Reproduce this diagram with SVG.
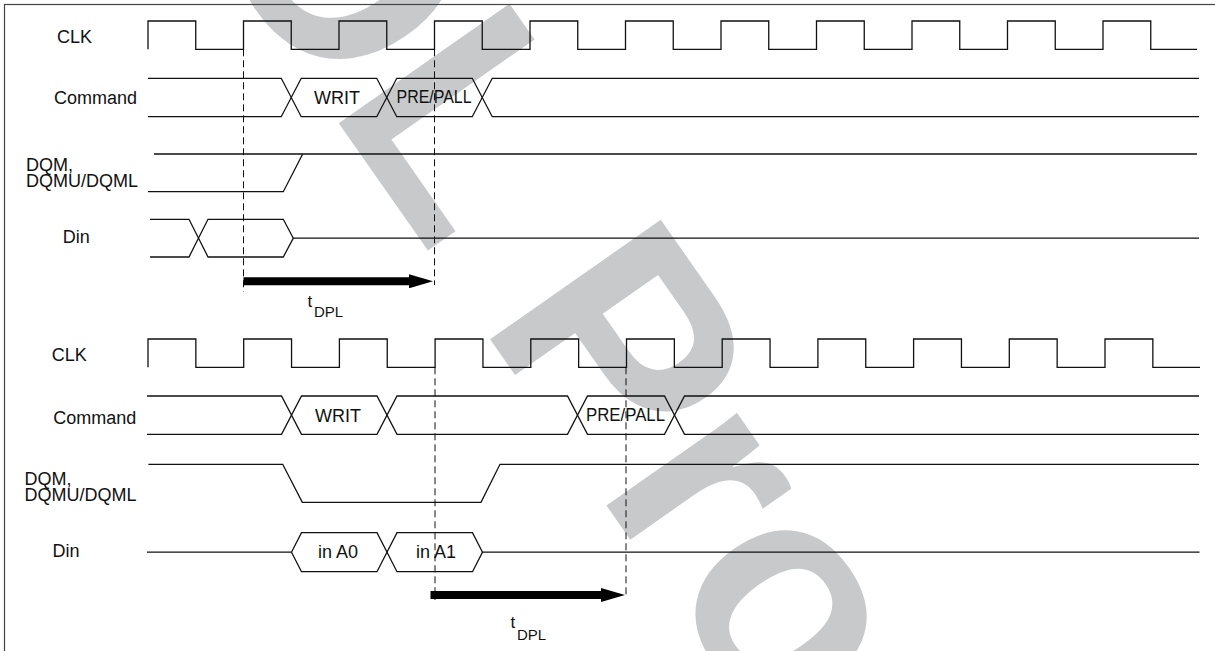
<svg xmlns="http://www.w3.org/2000/svg" width="1215" height="651" viewBox="0 0 1215 651">
<style>
.wm{font-family:"Liberation Sans",Arial,sans-serif;font-weight:bold;font-size:303px;fill:#c8c9cb}
.lbl{font-family:"Liberation Sans",Arial,sans-serif;font-size:18px;fill:#111}
.mid{text-anchor:middle}
.wave{fill:none;stroke:#111;stroke-width:1.3;stroke-linejoin:miter}
.dash{fill:none;stroke:#111;stroke-width:1;stroke-dasharray:7,4}
.arr{fill:none;stroke:#000;stroke-width:8;marker-end:url(#head)}
.sub{font-size:15px}
.t{font-size:17px}
</style>
<defs>
<marker id="head" markerUnits="userSpaceOnUse" markerWidth="24" markerHeight="14" refX="0.5" refY="7" orient="auto">
<path d="M0,0 L24,7 L0,14 Z" fill="#000"/>
</marker>
</defs>
<rect width="1215" height="651" fill="#fff"/>
<g id="watermark">
<text class="wm" transform="translate(76,-252) rotate(55)">EOL Product</text>
</g>
<g id="frame">
<rect x="4.5" y="4.5" width="1230" height="670" fill="none" stroke="#444" stroke-width="1.2"/>
</g>
<!-- Top diagram -->
<g id="clk-top">
<text class="lbl" x="57" y="43.3">CLK</text>
<path class="wave" d="M148,49.3 V21 H195.75 V49.3 H243.5 V21 H291.25 V49.3 H339 V21 H386.75 V49.3 H434.5 V21 H482.25 V49.3 H530 V21 H577.75 V49.3 H625.5 V21 H673.25 V49.3 H721 V21 H768.75 V49.3 H816.5 V21 H864.25 V49.3 H912 V21 H959.75 V49.3 H1007.5 V21 H1055.25 V49.3 H1103 V21 H1150.75 V49.3 H1197"/>
</g>
<g id="command-top">
<text class="lbl" x="54" y="104">Command</text>
<path class="wave" d="M148,78.3 H281.25 L301.25,116.7 H376.75 L396.75,78.3 H472.25 L492.25,116.7 H1199"/>
<path class="wave" d="M148,116.7 H281.25 L301.25,78.3 H376.75 L396.75,116.7 H472.25 L492.25,78.3 H1199"/>
<text class="lbl mid" x="337" y="104">WRIT</text>
<text class="lbl" x="396.5" y="103" textLength="75" lengthAdjust="spacingAndGlyphs">PRE/PALL</text>
</g>
<g id="dqm-top">
<text class="lbl" x="26" y="170.5">DQM,</text>
<text class="lbl" x="26" y="186.5">DQMU/DQML</text>
<path class="wave" d="M154,154 H1197"/>
<path class="wave" d="M148,191.7 H283.3 L302.7,154"/>
</g>
<g id="din-top">
<text class="lbl" x="62.7" y="243.3">Din</text>
<path class="wave" d="M150,219.3 H189 L208,257 H283.3 L293.3,238.2 H1199"/>
<path class="wave" d="M150,257 H189 L208,219.3 H283.3 L293.3,238.2"/>
</g>
<!-- Bottom diagram -->
<g id="clk-bottom">
<text class="lbl" x="51.7" y="360.7">CLK</text>
<path class="wave" d="M148,367.3 V339 H195.85 V367.3 H243.7 V339 H291.55 V367.3 H339.4 V339 H387.25 V367.3 H435.1 V339 H482.95 V367.3 H530.8 V339 H578.65 V367.3 H626.5 V339 H674.35 V367.3 H722.2 V339 H770.05 V367.3 H817.9 V339 H865.75 V367.3 H913.6 V339 H961.45 V367.3 H1009.3 V339 H1057.15 V367.3 H1105 V339 H1152.85 V367.3 H1200"/>
</g>
<g id="command-bottom">
<text class="lbl" x="53.3" y="424">Command</text>
<path class="wave" d="M147,396 H281.5 L301.5,434.3 H377 L397,396 H567.5 L587.5,434.3 H664.5 L684.5,396 H1199"/>
<path class="wave" d="M147,434.3 H281.5 L301.5,396 H377 L397,434.3 H567.5 L587.5,396 H664.5 L684.5,434.3 H1199"/>
<text class="lbl mid" x="338" y="422.3">WRIT</text>
<text class="lbl" x="586" y="420.5" textLength="79" lengthAdjust="spacingAndGlyphs">PRE/PALL</text>
</g>
<g id="dqm-bottom">
<text class="lbl" x="24.5" y="484.5">DQM,</text>
<text class="lbl" x="24.5" y="501">DQMU/DQML</text>
<path class="wave" d="M148.4,464.3 H282.7 L302.3,502.3 H481 L500,464.3 H1199"/>
</g>
<g id="din-bottom">
<text class="lbl" x="52.6" y="557">Din</text>
<path class="wave" d="M147,552.2 H291.5 L301.5,532.7 H377 L397,571.7 H472.5 L482.5,552.2 H1199.5"/>
<path class="wave" d="M291.5,552.2 L301.5,571.7 H377 L397,532.7 H472.5 L482.5,552.2"/>
<text class="lbl mid" x="338" y="557.5">in A0</text>
<text class="lbl mid" x="436" y="557.5">in A1</text>
</g>
<g id="connectors">
<line class="dash" x1="243.5" y1="49.3" x2="243.5" y2="291.7"/>
<line class="dash" x1="434.5" y1="49.3" x2="434.5" y2="285"/>
<line class="arr" x1="243.5" y1="281.3" x2="409.5" y2="281.3"/>
<text class="lbl"><tspan class="t" x="307.5" y="306.7">t</tspan><tspan class="sub" x="314" y="317">DPL</tspan></text>
<line class="dash" x1="435" y1="367.3" x2="435" y2="600"/>
<line class="dash" x1="626" y1="367.3" x2="626" y2="597"/>
<line class="arr" x1="430.5" y1="595" x2="601.5" y2="595"/>
<text class="lbl"><tspan class="t" x="510.5" y="628.3">t</tspan><tspan class="sub" x="517" y="640">DPL</tspan></text>
</g>
</svg>
